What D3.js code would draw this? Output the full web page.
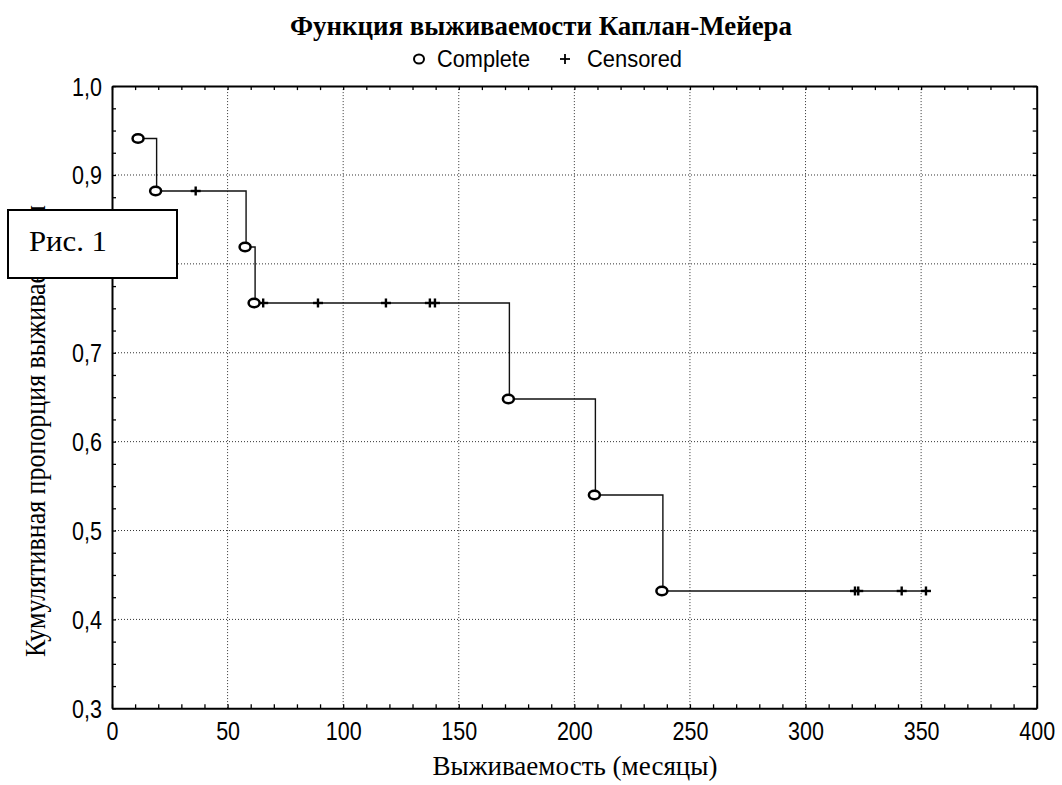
<!DOCTYPE html>
<html><head><meta charset="utf-8">
<script src="https://cdn.jsdelivr.net/npm/d3@7"></script>
<style>
html,body{margin:0;padding:0;background:#fff;}
svg{display:block;}
</style></head>
<body>
<svg id="chart" width="1062" height="785"></svg>
<script>
// ---- data ----
const completeTimes = [11.7, 19.3, 58, 61.9, 171.9, 209.1, 238.3];
const completeSurv  = [0.941, 0.882, 0.819, 0.756, 0.648, 0.540, 0.432];
const censoredTimes = [36.2, 65.4, 89.1, 118.5, 137.5, 139.7, 321.4, 322.8, 341.6, 352.1];
const censoredSurv  = [0.882, 0.756, 0.756, 0.756, 0.756, 0.756, 0.432, 0.432, 0.432, 0.432];
const xTickLabels = [0, 50, 100, 150, 200, 250, 300, 350, 400];
const yTickLabels = [0.3, 0.4, 0.5, 0.6, 0.7, 0.8, 0.9, 1.0];
const titleText = "Функция выживаемости Каплан-Мейера";
const legendLabels = ["Complete", "Censored"];
const xTitle = "Выживаемость (месяцы)";
const yTitle = "Кумулятивная пропорция выживаемости";
const noteText = "Рис. 1";

const svg = d3.select("#chart");
const L = 112, R = 1036.7, T = 86.1, B = 708.3;
const x = d3.scaleLinear().domain([0, 400]).range([L, R]);
const y = d3.scaleLinear().domain([0.3, 1.0]).range([B, T]);

// grid
const g = svg.append("g");
g.selectAll(".gx").data(xTickLabels.filter(d => d > 0 && d < 400)).enter().append("line")
  .attr("x1", d => x(d)).attr("x2", d => x(d)).attr("y1", T).attr("y2", B)
  .attr("stroke", "#333").attr("stroke-width", 1).attr("stroke-dasharray", "1,2");
g.selectAll(".gy").data(yTickLabels.filter(d => d > 0.31 && d < 0.99)).enter().append("line")
  .attr("y1", d => y(d)).attr("y2", d => y(d)).attr("x1", L).attr("x2", R)
  .attr("stroke", "#333").attr("stroke-width", 1).attr("stroke-dasharray", "1,2");

// axes
const fmtY = d => d3.format(".1f")(d).replace(".", ",");
const xMinor = d3.range(0, 401, 10);
const yMinor = d3.range(0, 29).map(i => 0.3 + i * 0.025);
const isMajX = d => Math.abs(d % 50) < 1e-6;
const isMajY = d => Math.abs(Math.round(d * 10) - d * 10) < 1e-6;

const axB = svg.append("g").attr("transform", `translate(0,${B})`)
  .call(d3.axisBottom(x).tickValues(xMinor).tickSizeInner(-4).tickSizeOuter(0)
    .tickPadding(14).tickFormat(d => isMajX(d) ? d : ""));
const axT = svg.append("g").attr("transform", `translate(0,${T})`)
  .call(d3.axisTop(x).tickValues(xMinor).tickSizeInner(-4).tickSizeOuter(0).tickFormat(""));
const axL = svg.append("g").attr("transform", `translate(${L},0)`)
  .call(d3.axisLeft(y).tickValues(yMinor).tickSizeInner(-4).tickSizeOuter(0)
    .tickPadding(10).tickFormat(d => isMajY(d) ? fmtY(d) : ""));
const axR = svg.append("g").attr("transform", `translate(${R},0)`)
  .call(d3.axisRight(y).tickValues(yMinor).tickSizeInner(-4).tickSizeOuter(0).tickFormat(""));

[axB, axT, axL, axR].forEach(a => {
  a.select(".domain").attr("stroke", "#000").attr("stroke-width", 2);
  a.selectAll(".tick line").attr("stroke", "#000").attr("stroke-width", 1.3);
  a.selectAll("text").attr("font-family", "Liberation Sans, Arial, sans-serif")
    .attr("font-size", 25).attr("fill", "#000");
});
// condensed look: squeeze glyphs horizontally
[axB, axL].forEach(a => {
  a.selectAll("text").each(function () {
    const len = this.getComputedTextLength();
    if (len > 0) d3.select(this).attr("textLength", len * 0.86).attr("lengthAdjust", "spacingAndGlyphs");
  });
});
axL.selectAll("text").attr("dy", "0.36em");

// step line
const stepPts = completeTimes.map((t, i) => [t, completeSurv[i]]);
stepPts.push([censoredTimes[censoredTimes.length - 1], censoredSurv[censoredSurv.length - 1]]);
const line = d3.line().x(d => x(d[0])).y(d => y(d[1])).curve(d3.curveStepAfter);
svg.append("path").attr("d", line(stepPts)).attr("fill", "none")
  .attr("stroke", "#111").attr("stroke-width", 1.4);

// censored markers
const cg = svg.append("g").attr("stroke", "#000").attr("stroke-width", 2.4);
censoredTimes.forEach((t, i) => {
  const cx = x(t), cy = y(censoredSurv[i]);
  cg.append("line").attr("x1", cx - 5).attr("x2", cx + 5).attr("y1", cy).attr("y2", cy);
  cg.append("line").attr("x1", cx).attr("x2", cx).attr("y1", cy - 4.5).attr("y2", cy + 4.5);
});

// complete markers
svg.append("g").selectAll("ellipse").data(completeTimes).enter().append("ellipse")
  .attr("cx", d => x(d) - 1).attr("cy", (d, i) => y(completeSurv[i]))
  .attr("rx", 5.5).attr("ry", 4.2).attr("fill", "#fff").attr("stroke", "#000").attr("stroke-width", 2.5);

// title
svg.append("text").attr("x", 290).attr("y", 35).text(titleText)
  .attr("font-family", "Liberation Serif, Times New Roman, serif").attr("font-weight", "bold")
  .attr("font-size", 28).attr("textLength", 502).attr("lengthAdjust", "spacingAndGlyphs");

// legend
svg.append("ellipse").attr("cx", 419).attr("cy", 59).attr("rx", 5).attr("ry", 4.5)
  .attr("fill", "#fff").attr("stroke", "#000").attr("stroke-width", 2);
svg.append("text").attr("x", 437).attr("y", 67).text(legendLabels[0])
  .attr("font-family", "Liberation Sans, Arial, sans-serif").attr("font-size", 24)
  .attr("textLength", 93).attr("lengthAdjust", "spacingAndGlyphs");
svg.append("line").attr("x1", 560).attr("x2", 570).attr("y1", 59).attr("y2", 59).attr("stroke", "#000").attr("stroke-width", 1.8);
svg.append("line").attr("x1", 565).attr("x2", 565).attr("y1", 54).attr("y2", 64).attr("stroke", "#000").attr("stroke-width", 1.8);
svg.append("text").attr("x", 587).attr("y", 67).text(legendLabels[1])
  .attr("font-family", "Liberation Sans, Arial, sans-serif").attr("font-size", 24)
  .attr("textLength", 95).attr("lengthAdjust", "spacingAndGlyphs");

// axis titles
svg.append("text").attr("x", 575).attr("y", 775).attr("text-anchor", "middle").text(xTitle)
  .attr("font-family", "Liberation Serif, Times New Roman, serif").attr("font-size", 27)
  .attr("textLength", 285).attr("lengthAdjust", "spacingAndGlyphs");
svg.append("text").attr("transform", "translate(45,657) rotate(-90)").attr("x", 0).attr("y", 0)
  .text(yTitle)
  .attr("font-family", "Liberation Serif, Times New Roman, serif").attr("font-size", 29)
  .attr("textLength", 452).attr("lengthAdjust", "spacingAndGlyphs");

// note box
svg.append("rect").attr("x", 8).attr("y", 210).attr("width", 169).attr("height", 68)
  .attr("fill", "#fff").attr("stroke", "#000").attr("stroke-width", 2);
svg.append("text").attr("x", 29).attr("y", 251).text(noteText)
  .attr("font-family", "Liberation Serif, Times New Roman, serif").attr("font-size", 29)
  .attr("textLength", 78).attr("lengthAdjust", "spacingAndGlyphs");
</script>
</body></html>
